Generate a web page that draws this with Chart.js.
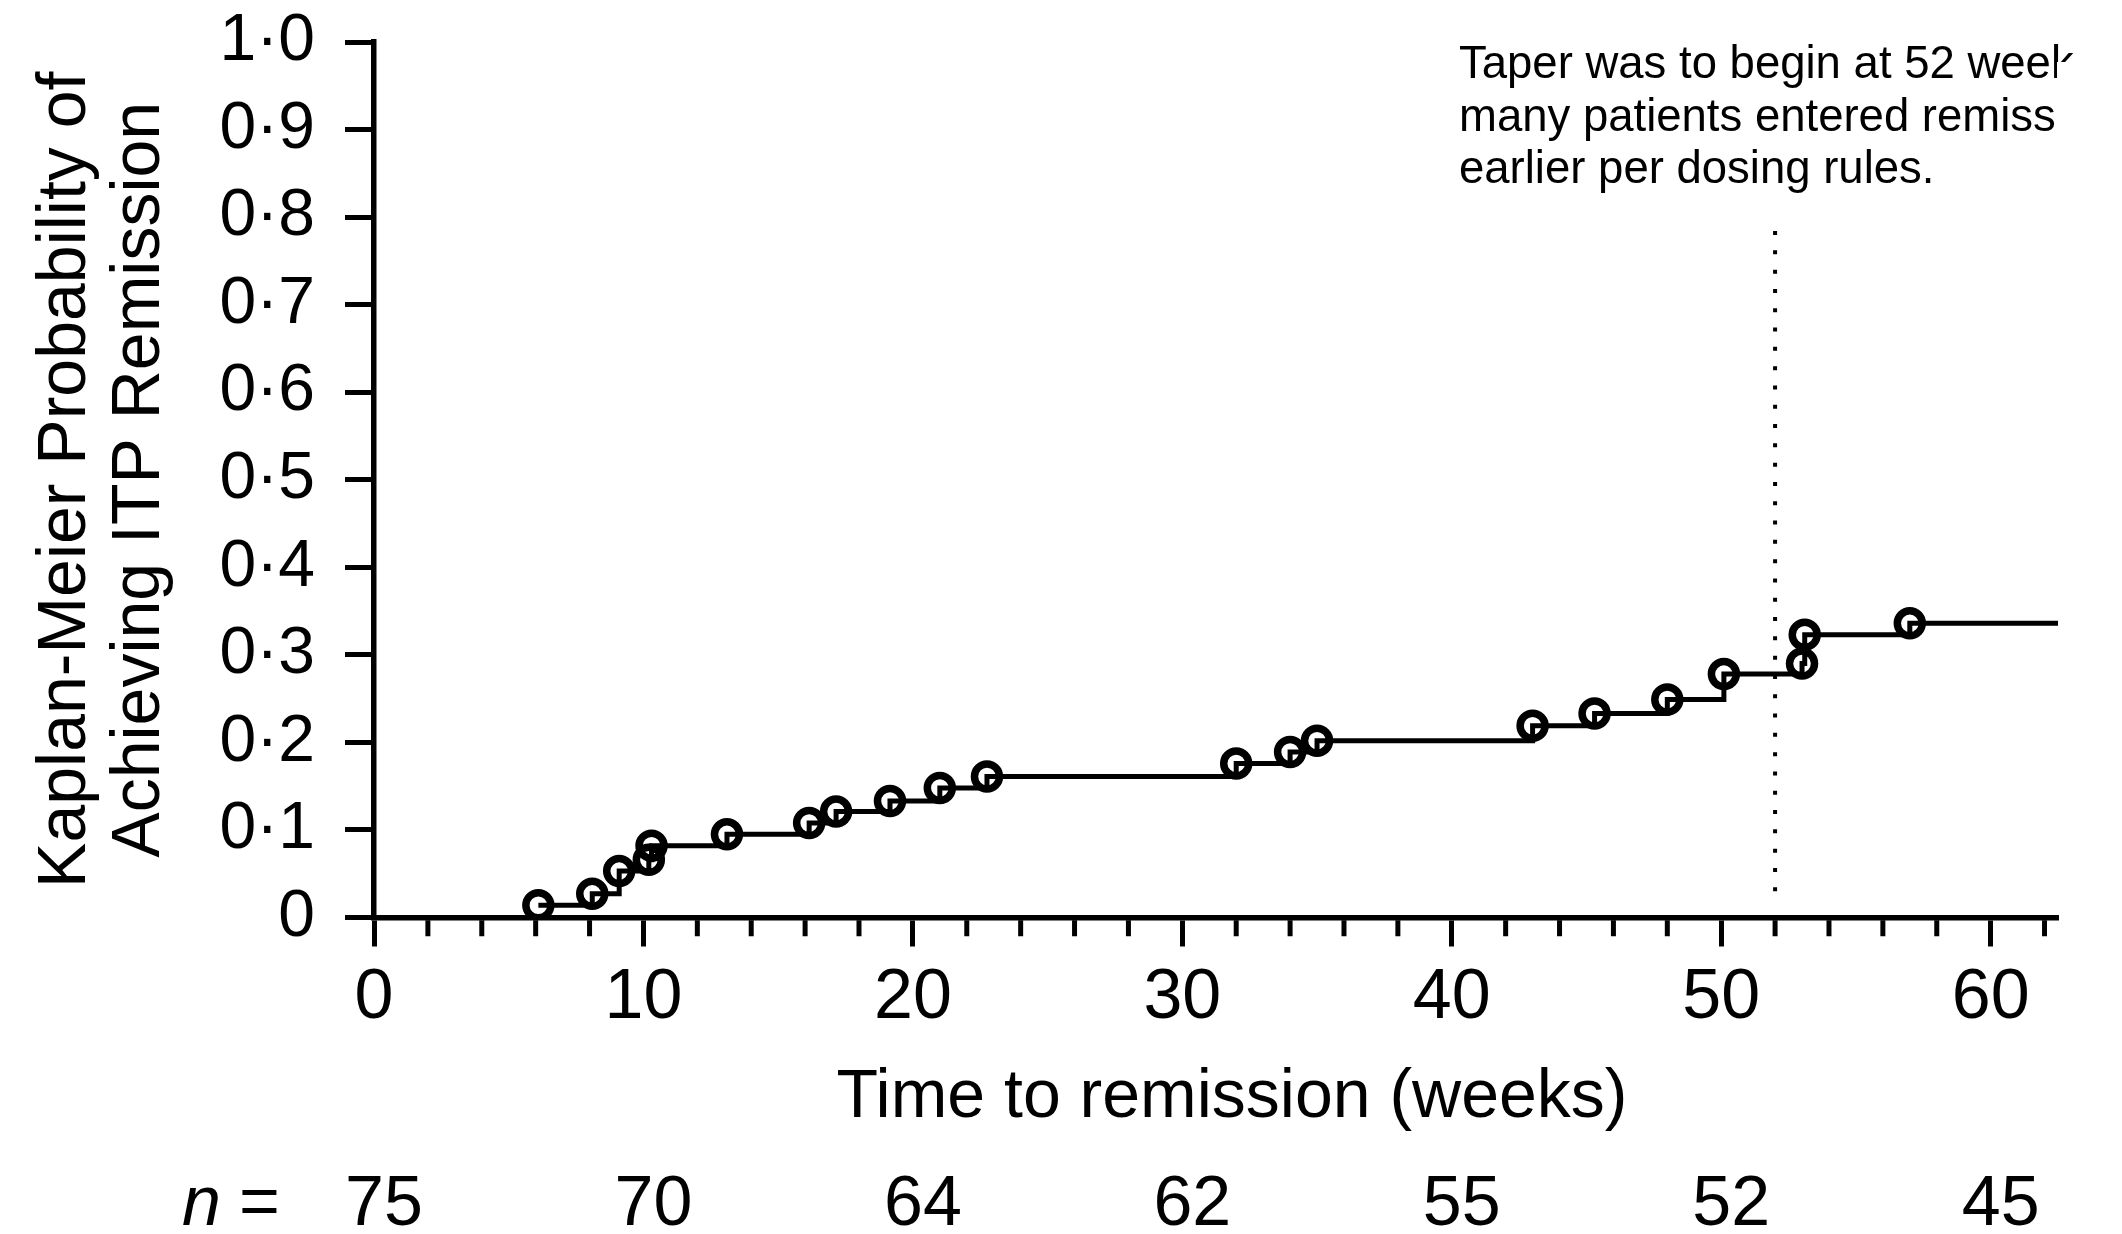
<!DOCTYPE html>
<html>
<head>
<meta charset="utf-8">
<title>Time to remission</title>
<script src="https://cdn.jsdelivr.net/npm/chart.js@4.4.1/dist/chart.umd.min.js"></script>
<style>
  html, body { margin: 0; padding: 0; background: #fff; }
  #wrap { width: 2122px; height: 1234px; }
</style>
</head>
<body>
<div id="wrap"><canvas id="kmChart" width="2122" height="1234"></canvas></div>
<script>
// Kaplan-Meier steps: week of each remission and cumulative probability after it
const eventWeeks = [6.1, 8.1, 9.1, 10.2, 10.3, 13.1, 16.15, 17.15, 19.15, 21.0, 22.75, 32.0, 34.0, 35.0, 43.0, 45.3, 48.0, 50.1, 53.0, 53.1, 57.0];
const remissionProb = [0.014, 0.027, 0.053, 0.066, 0.082, 0.095, 0.108, 0.121, 0.133, 0.148, 0.161, 0.176, 0.189, 0.202, 0.219, 0.233, 0.249, 0.278, 0.290, 0.323, 0.336];
const followUpEnd = 62.5;

// patients at risk, printed under the x axis
const riskWeeks = [0, 10, 20, 30, 40, 50, 60];
const atRisk = [75, 70, 64, 62, 55, 52, 45];

// taper start line and its note
const taperWeek = 52;
const taperSpan = [0.03, 0.80];
const taperNote = ['Taper was to begin at 52 weeks;', 'many patients entered remission', 'earlier per dosing rules.'];

const FONT = "'Liberation Sans', Arial, sans-serif";

const kmPoints = eventWeeks.map((w, i) => ({ x: w, y: remissionProb[i] }));
kmPoints.push({ x: followUpEnd, y: remissionProb[remissionProb.length - 1] });

// minor ticks, axis title, numbers at risk and the taper note
const kmExtras = {
  id: 'kmExtras',
  afterDraw(chart) {
    const { ctx, chartArea } = chart;
    const x = chart.scales.x;
    ctx.save();
    ctx.strokeStyle = '#000';
    ctx.lineWidth = 5;
    const axisY = chartArea.bottom + 2.75;
    for (let w = 2; w < followUpEnd; w += 2) {
      if (w % 10 === 0) continue;
      const px = x.getPixelForValue(w);
      ctx.beginPath();
      ctx.moveTo(px, axisY);
      ctx.lineTo(px, axisY + 16);
      ctx.stroke();
    }

    ctx.fillStyle = '#000';
    ctx.textBaseline = 'alphabetic';
    ctx.font = '68px ' + FONT;
    ctx.textAlign = 'center';
    ctx.fillText('Time to remission (weeks)', (chartArea.left + chartArea.right) / 2 + 16, 1117);

    ctx.font = '70px ' + FONT;
    const rowY = 1225;
    riskWeeks.forEach((w, i) => ctx.fillText(String(atRisk[i]), x.getPixelForValue(w) + 10, rowY));
    ctx.textAlign = 'right';
    ctx.fillText('=', 280, rowY);
    ctx.font = 'italic 70px ' + FONT;
    ctx.fillText('n', 221, rowY);

    // the note runs past the plot's right edge and is cut there
    ctx.beginPath();
    ctx.rect(0, 0, chartArea.right - 1, chart.height);
    ctx.rect(chartArea.right - 1, 0, 18, 62);
    ctx.clip();
    ctx.font = '45.5px ' + FONT;
    ctx.textAlign = 'left';
    taperNote.forEach((line, i) => ctx.fillText(line, 1459, 78 + i * 52.5));
    ctx.restore();
  }
};

new Chart(document.getElementById('kmChart'), {
  type: 'line',
  data: {
    datasets: [
      {
        label: 'Taper',
        data: taperSpan.map(v => ({ x: taperWeek, y: v })),
        borderColor: '#000',
        borderWidth: 4,
        borderDash: [4, 15.3],
        pointRadius: 0
      },
      {
        label: 'Remission',
        data: kmPoints,
        stepped: true,
        borderColor: '#000',
        borderWidth: 5,
        pointRadius: kmPoints.map((p, i) => i < eventWeeks.length ? 12.5 : 0),
        pointBorderWidth: 7.5,
        pointBorderColor: '#000',
        pointBackgroundColor: 'rgba(0,0,0,0)'
      }
    ]
  },
  options: {
    responsive: false,
    animation: false,
    devicePixelRatio: 1,
    layout: { padding: { top: 42, right: 64, bottom: 0, left: 0 } },
    plugins: { legend: { display: false }, tooltip: { enabled: false } },
    scales: {
      x: {
        type: 'linear',
        min: 0,
        max: followUpEnd,
        grid: { drawOnChartArea: false, tickLength: 29, tickWidth: 5, tickColor: '#000' },
        border: { color: '#000', width: 5.5 },
        ticks: {
          stepSize: 10,
          includeBounds: false,
          maxRotation: 0,
          color: '#000',
          padding: 10,
          font: { family: FONT, size: 70 }
        },
        afterFit(scale) { scale.height = 1234 - 917.5; }
      },
      y: {
        min: 0,
        max: 1,
        grid: { drawOnChartArea: false, tickLength: 29, tickWidth: 5, tickColor: '#000' },
        border: { color: '#000', width: 5.5 },
        ticks: {
          stepSize: 0.1,
          color: '#000',
          padding: 30,
          font: { family: FONT, size: 66 },
          callback: v => v === 0 ? '0' : v.toFixed(1).replace('.', '·')
        },
        title: {
          display: true,
          text: ['Kaplan-Meier Probability of', 'Achieving ITP Remission'],
          color: '#000',
          font: { family: FONT, size: 68, lineHeight: 1.1 },
          padding: { top: 28.5, bottom: 0 }
        },
        afterFit(scale) {
          scale.width = 374;
          scale.paddingTop = 0;
          scale.paddingBottom = 0;
        }
      }
    }
  },
  plugins: [kmExtras]
});
</script>
</body>
</html>
